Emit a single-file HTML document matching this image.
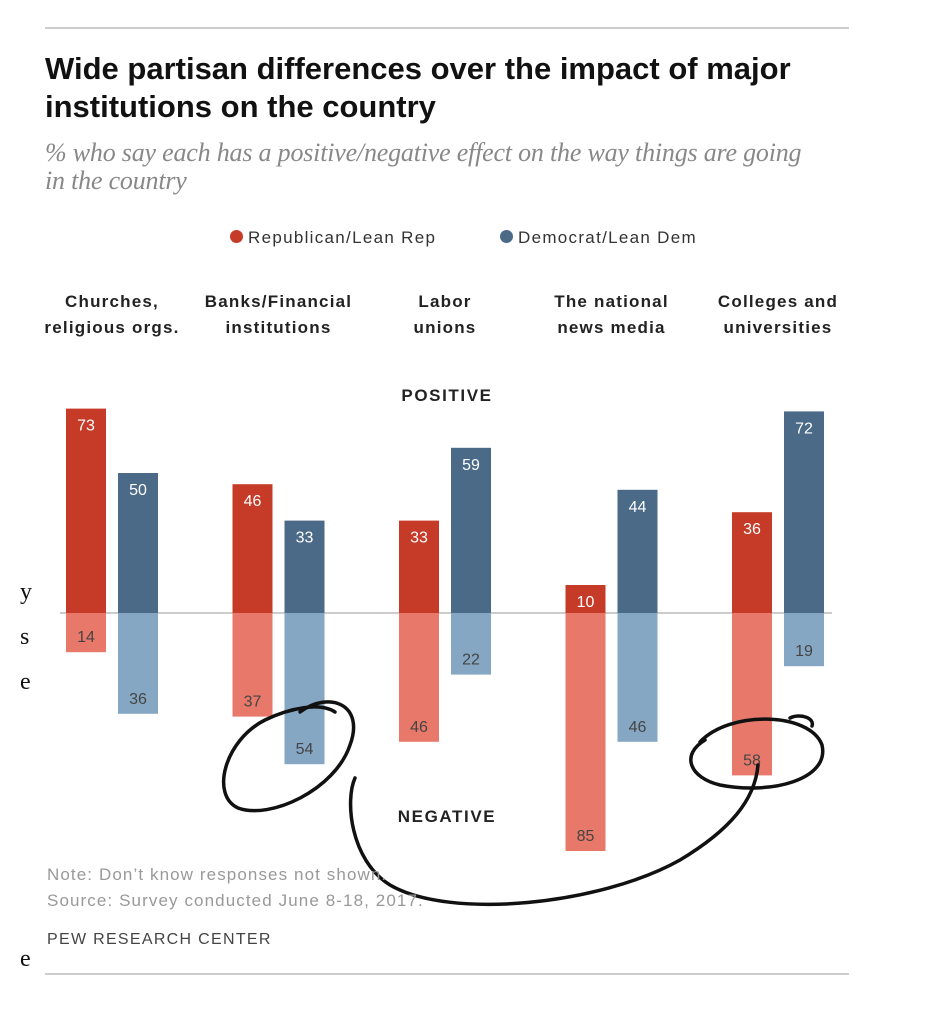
<!DOCTYPE html>
<html><head><meta charset="utf-8"><style>
body{margin:0;background:#fff;width:940px;height:1024px;overflow:hidden;position:relative;font-family:"Liberation Sans",sans-serif}
.t{position:absolute}
</style></head><body>
<div class="t" style="left:45px;top:27px;width:804px;height:2px;background:#ccc"></div>
<div class="t" style="left:45px;top:50px;font-size:31px;font-weight:bold;color:#111;line-height:38px;width:820px">Wide partisan differences over the impact of major institutions on the country</div>
<div class="t" style="left:45px;top:139px;font-family:'Liberation Serif',serif;font-style:italic;font-size:26px;color:#888;line-height:28px;width:850px;white-space:nowrap;letter-spacing:-0.2px">% who say each has a positive/negative effect on the way things are going<br>in the country</div>
<div class="t" style="left:230px;top:228px;font-size:17px;color:#333;letter-spacing:1.3px"><span style="display:inline-block;width:13px;height:13px;border-radius:50%;background:#c63b28;margin-right:5px"></span>Republican/Lean Rep</div>
<div class="t" style="left:500px;top:228px;font-size:17px;color:#333;letter-spacing:1.3px"><span style="display:inline-block;width:13px;height:13px;border-radius:50%;background:#4a6a88;margin-right:5px"></span>Democrat/Lean Dem</div>
<div class="t" style="left:20px;top:570px;font-family:'Liberation Serif',serif;font-size:24px;line-height:45px;color:#111">y<br>s<br>e</div>
<div class="t" style="left:20px;top:946px;font-family:'Liberation Serif',serif;font-size:24px;color:#111">e</div>
<svg class="t" style="left:0;top:0" width="940" height="1024" id="chart"></svg>
<div class="t" style="left:47px;top:862px;font-size:17px;color:#999;line-height:26px;letter-spacing:1.1px">Note: Don’t know responses not shown.<br>Source: Survey conducted June 8-18, 2017.</div>
<div class="t" style="left:47px;top:931px;font-size:16px;color:#444;letter-spacing:1.3px">PEW RESEARCH CENTER</div>
<div class="t" style="left:45px;top:973px;width:804px;height:2px;background:#ccc"></div>
<script>
const categories=["Churches,|religious orgs.","Banks/Financial|institutions","Labor|unions","The national|news media","Colleges and|universities"];
const repPos=[73,46,33,10,36];
const demPos=[50,33,59,44,72];
const repNeg=[14,37,46,85,58];
const demNeg=[36,54,22,46,19];
const NS="http://www.w3.org/2000/svg";
const svg=document.getElementById('chart');
const base=613,k=2.8,bw=40;
const gx=i=>66+i*166.5;
const y=v=>v*k;
function mk(t,a){const e=document.createElementNS(NS,t);for(const n in a)e.setAttribute(n,a[n]);svg.appendChild(e);return e;}
function txt(x,yy,s,fill,size,weight,ls){const e=mk('text',{x:x,y:yy,'text-anchor':'middle','font-size':size,'font-weight':weight||'normal',fill:fill,'font-family':'Liberation Sans, sans-serif','letter-spacing':ls||0});e.textContent=s;return e;}
mk('line',{x1:60,x2:832,y1:base,y2:base,stroke:'#bbb','stroke-width':1.5});
categories.forEach((c,i)=>{
  const x=gx(i);const p=c.split('|');
  const l1=txt(x+46,307,p[0],'#222',17,'bold',1.2);
  
  const l2=txt(x+46,333,p[1],'#222',17,'bold',1.2);
  
  const series=[[repPos[i],x,-1,'#c63b28'],[demPos[i],x+52,-1,'#4a6a88'],[repNeg[i],x,1,'#e8796a'],[demNeg[i],x+52,1,'#86a7c3']];
  series.forEach(([v,bx,d,col])=>{
    const h=y(v);
    const r=mk('rect',{x:bx,y:d<0?base-h:base,width:bw,height:h,fill:col});
    
    
    const ty=d<0?base-h+22:base+h-10;
    const t=txt(bx+bw/2,ty,String(v),d<0?'#fff':'#444',16);
    
  });
});
const pl=txt(447,401,'POSITIVE','#222',17,'bold',1.6);
const nl=txt(447,822,'NEGATIVE','#222',17,'bold',1.6);
const ann=mk('path',{d:"M300,712 C330,690 365,705 350,745 C335,790 270,820 238,808 C210,795 225,740 265,720 C290,708 320,702 335,712 M355,778 C345,800 350,860 390,885 C450,920 600,905 680,860 C730,830 755,800 758,765 M700,742 C730,710 810,712 822,745 C830,780 770,795 720,785 C690,778 680,755 705,740 M790,718 C800,713 815,718 812,726",fill:'none',stroke:'#111','stroke-width':3.5,'stroke-linecap':'round'});

</script>
</body></html>
